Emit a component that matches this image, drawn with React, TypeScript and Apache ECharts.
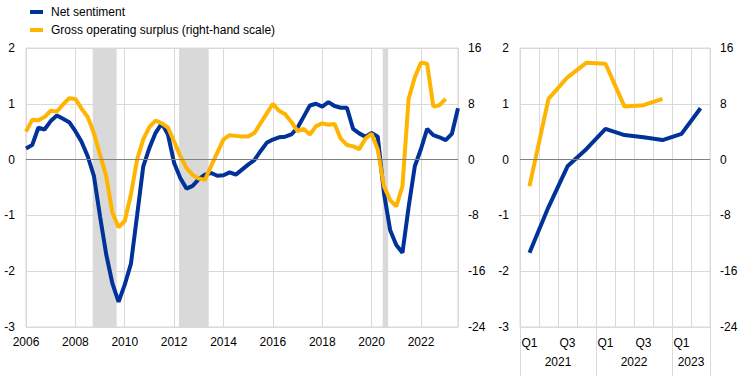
import React, { useEffect, useRef } from "react";
import * as echarts from "echarts";

// Quarterly observations, first point at 2006.0, one point every quarter
const startYear = 2006;
const quarterStep = 0.25;

const netSentiment = [
  0.2, 0.26, 0.57, 0.54, 0.69, 0.79, 0.73, 0.67, 0.51, 0.32,
  0.06, -0.29, -1.02, -1.7, -2.22, -2.55, -2.24, -1.87, -1.0, -0.12,
  0.21, 0.48, 0.65, 0.45, -0.06, -0.33, -0.52, -0.47, -0.35, -0.27,
  -0.24, -0.29, -0.28, -0.23, -0.27, -0.18, -0.09, -0.01, 0.15, 0.3,
  0.36, 0.4, 0.41, 0.45, 0.57, 0.77, 0.97, 1.0, 0.95, 1.03,
  0.96, 0.93, 0.93, 0.55, 0.47, 0.41, 0.48, 0.41, -0.6, -1.26,
  -1.53, -1.67, -0.85, -0.12, 0.19, 0.55, 0.44, 0.4, 0.35, 0.46,
  0.92,
];

const grossOperatingSurplus = [
  4.0, 5.7, 5.65, 6.1, 7.0, 6.9, 7.9, 8.8, 8.7, 7.3,
  6.1, 3.8, 0.7, -2.4, -7.6, -9.7, -8.8, -5.0, 0.0, 2.9,
  4.7, 5.6, 5.2, 4.6, 2.6, 0.5, -1.2, -2.2, -2.7, -2.9,
  -0.9, 1.0, 2.9, 3.5, 3.4, 3.3, 3.3, 3.8, 5.2, 6.6,
  8.0, 7.0, 6.5, 5.4, 4.1, 4.4, 3.6, 4.8, 5.2, 5.0,
  5.1, 3.0, 2.1, 1.9, 1.5, 3.0, 3.7, 1.4, -3.8, -5.8,
  -6.7, -3.8, 8.7, 11.8, 13.9, 13.75, 7.6, 7.8, 8.7,
];

const recessions = [
  [2008.7, 2009.67],
  [2012.2, 2013.4],
  [2020.45, 2020.67],
];

// Right-hand panel: 2021 Q1 onwards
const panelStartIndex = 61;
const panelQuarters = ["Q1", "Q2", "Q3", "Q4", "Q1", "Q2", "Q3", "Q4", "Q1", "Q2"];
const panelYears = ["2021", "2022", "2023"];
const panelYearQuarters = [4, 4, 2];

const leftAxis = { min: -3, max: 2, interval: 1 };
const rightAxis = { min: -24, max: 16, interval: 8 };
const yearAxis = { min: 2006, max: 2023.5, interval: 2 };

const BLUE = "#003299";
const YELLOW = "#FFB400";
const BAND = "#D9D9D9";
const GRID = "#D9D9D9";
const ZERO = "#808080";
const FONT = "Arial, 'Liberation Sans', sans-serif";

export default function App() {
  const ref = useRef<HTMLDivElement>(null);

  useEffect(() => {
    if (!ref.current) return;
    const chart = echarts.init(ref.current, undefined, { renderer: "svg" });

    const yearBounds: number[] = [0];
    const yearCenters: number[] = [];
    panelYearQuarters.forEach((n) => {
      const s = yearBounds[yearBounds.length - 1];
      yearCenters.push(s + n / 2);
      yearBounds.push(s + n);
    });

    const labelStyle = { color: "#000", fontSize: 12, fontFamily: FONT };
    const lineW = 4;

    const yLeft = (gridIndex: number) => ({
      type: "value",
      gridIndex,
      position: "left",
      ...leftAxis,
      axisLine: { show: false },
      axisTick: { show: false },
      splitLine: { show: true, lineStyle: { color: GRID, width: 1 } },
      axisLabel: { ...labelStyle, margin: 11 },
    });
    const yRight = (gridIndex: number) => ({
      type: "value",
      gridIndex,
      position: "right",
      ...rightAxis,
      axisLine: { show: false },
      axisTick: { show: false },
      splitLine: { show: false },
      axisLabel: { ...labelStyle, margin: 10 },
    });

    const zeroLine = {
      silent: true,
      symbol: "none",
      label: { show: false },
      lineStyle: { color: ZERO, width: 1, type: "solid" },
      emphasis: { disabled: true },
      data: [{ yAxis: 0 }],
    };

    chart.setOption({
      animation: false,
      textStyle: { fontFamily: FONT },
      legend: {
        orient: "vertical",
        left: 25,
        top: 0,
        icon: "rect",
        itemWidth: 13,
        itemHeight: 4,
        itemGap: 4,
        data: ["Net sentiment", "Gross operating surplus (right-hand scale)"],
        textStyle: { ...labelStyle, lineHeight: 14, padding: [0, 0, 0, 3] },
      },
      grid: [
        { left: 26, right: 286, top: 48, bottom: 49, show: true, borderColor: GRID, borderWidth: 1 },
        { left: 520, right: 34, top: 48, bottom: 49, show: true, borderColor: GRID, borderWidth: 1 },
      ],
      xAxis: [
        {
          type: "value",
          gridIndex: 0,
          ...yearAxis,
          axisLine: { show: false },
          axisTick: { show: false },
          splitLine: { show: true, lineStyle: { color: GRID, width: 1 } },
          axisLabel: {
            ...labelStyle,
            margin: 9,
            showMaxLabel: false,
            formatter: (v: number) => (v % 2 === 0 ? String(v) : ""),
          },
        },
        {
          type: "category",
          gridIndex: 1,
          data: panelQuarters,
          boundaryGap: true,
          axisLine: { show: false },
          axisTick: { show: false },
          splitLine: { show: true, interval: 0, lineStyle: { color: GRID, width: 1 } },
          axisLabel: { ...labelStyle, margin: 10, interval: 1 },
        },
        {
          type: "value",
          gridIndex: 1,
          position: "bottom",
          min: 0,
          max: panelQuarters.length,
          axisLine: { show: false },
          splitLine: { show: false },
          axisTick: { show: false },
          axisLabel: {
            ...labelStyle,
            margin: 29,
            customValues: yearCenters,
            formatter: (v: number) => {
              const i = yearCenters.indexOf(v);
              return i >= 0 ? panelYears[i] : "";
            },
          },
        },
      ],
      yAxis: [yLeft(0), yRight(0), yLeft(1), yRight(1)],
      series: [
        {
          type: "line",
          xAxisIndex: 0,
          yAxisIndex: 0,
          data: [],
          z: 1,
          silent: true,
          markArea: {
            silent: true,
            itemStyle: { color: BAND },
            emphasis: { disabled: true },
            data: recessions.map(([a, b]) => [{ xAxis: a }, { xAxis: b }]),
          },
          markLine: zeroLine,
        },
        {
          type: "line",
          xAxisIndex: 1,
          yAxisIndex: 2,
          data: [],
          z: 1,
          silent: true,
          markLine: zeroLine,
        },
        {
          name: "Net sentiment",
          type: "line",
          xAxisIndex: 0,
          yAxisIndex: 0,
          data: netSentiment.map((v, i) => [startYear + i * quarterStep, v]),
          showSymbol: false,
          color: BLUE,
          lineStyle: { color: BLUE, width: lineW },
          z: 3,
        },
        {
          name: "Gross operating surplus (right-hand scale)",
          type: "line",
          xAxisIndex: 0,
          yAxisIndex: 1,
          data: grossOperatingSurplus.map((v, i) => [startYear + i * quarterStep, v]),
          showSymbol: false,
          color: YELLOW,
          lineStyle: { color: YELLOW, width: lineW },
          z: 4,
        },
        {
          name: "Net sentiment",
          type: "line",
          xAxisIndex: 1,
          yAxisIndex: 2,
          data: netSentiment.slice(panelStartIndex),
          showSymbol: false,
          color: BLUE,
          lineStyle: { color: BLUE, width: lineW },
          z: 3,
        },
        {
          name: "Gross operating surplus (right-hand scale)",
          type: "line",
          xAxisIndex: 1,
          yAxisIndex: 3,
          data: grossOperatingSurplus.slice(panelStartIndex),
          showSymbol: false,
          color: YELLOW,
          lineStyle: { color: YELLOW, width: lineW },
          z: 4,
        },
      ],
    });

    // Year separators below the right-hand panel, placed through the axis scale
    const yBottom = chart.convertToPixel({ yAxisIndex: 2 }, leftAxis.min) as number;
    const h = chart.getHeight();
    const separators = yearBounds.map((b) => {
      const x = Math.round(chart.convertToPixel({ xAxisIndex: 2 }, b) as number) + 0.5;
      return {
        type: "line",
        silent: true,
        z: 10,
        shape: { x1: x, y1: yBottom, x2: x, y2: h },
        style: { stroke: GRID, lineWidth: 1 },
      };
    });
    chart.setOption({ graphic: separators });

    return () => chart.dispose();
  }, []);

  return (
    <div
      ref={ref}
      style={{ position: "absolute", left: 0, top: 0, width: 744, height: 376 }}
    />
  );
}
